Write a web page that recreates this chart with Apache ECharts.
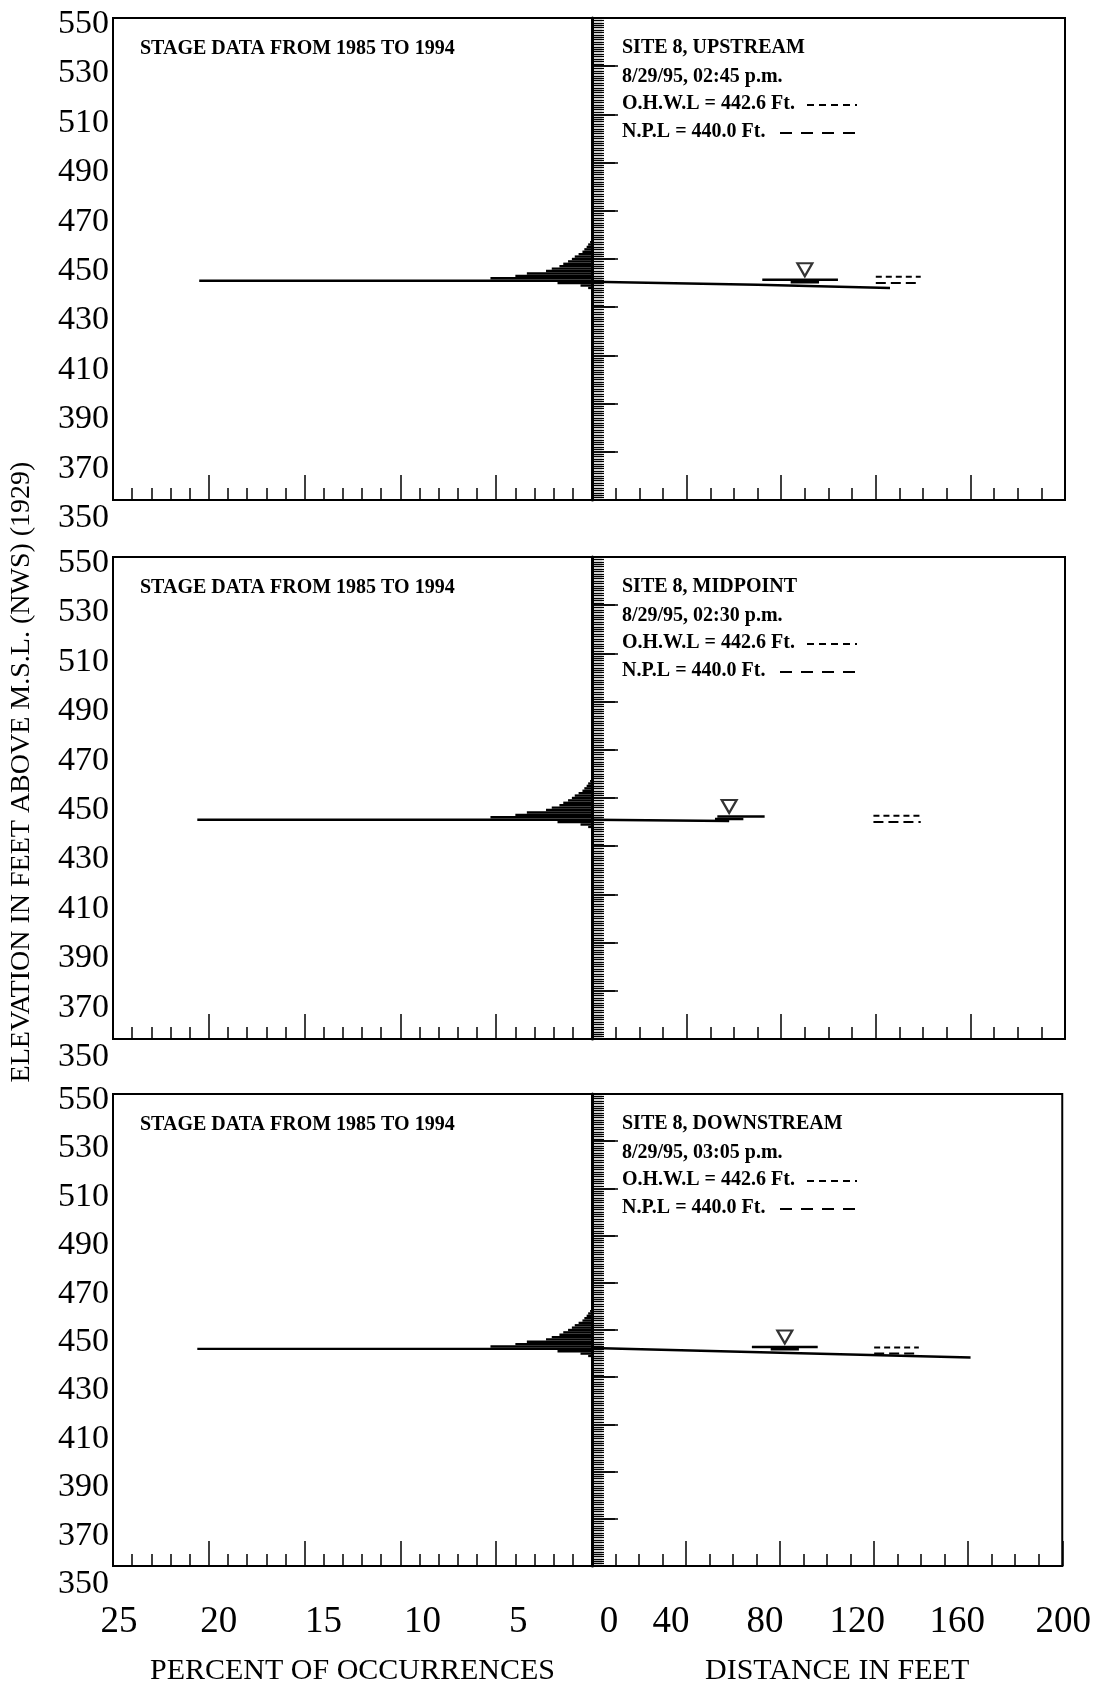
<!DOCTYPE html>
<html><head><meta charset="utf-8">
<script src="https://cdn.jsdelivr.net/npm/echarts@6/dist/echarts.min.js"></script>
<style>html,body{margin:0;padding:0;background:#fff}#c{width:1094px;height:1687px}</style>
</head><body><div id="c"></div>
<script>
// ---------- DATA ----------
const elevLabels = [350, 370, 390, 410, 430, 450, 470, 490, 510, 530, 550];
const pctLabels = ['25', '20', '15', '10', '5'];
const distLabels = ['0', '40', '80', '120', '160', '200'];
const stageNote = 'STAGE DATA FROM 1985 TO 1994';
const siteTitles = ['SITE 8, UPSTREAM', 'SITE 8, MIDPOINT', 'SITE 8, DOWNSTREAM'];
const siteTimes = ['8/29/95, 02:45 p.m.', '8/29/95, 02:30 p.m.', '8/29/95, 03:05 p.m.'];
const ohwlText = 'O.H.W.L = 442.6 Ft.';
const nplText = 'N.P.L = 440.0 Ft.';
const ohwl = 442.6;
const npl = 440.0;
const yTitle = 'ELEVATION IN FEET ABOVE M.S.L. (NWS) (1929)';
const xTitleLeft = 'PERCENT OF OCCURRENCES';
const xTitleRight = 'DISTANCE IN FEET';

// stage histograms: [elevation (ft), percent of occurrences]
const histUp = [[438,0.2],[439,0.6],[440,1.8],[441,20.5],[442,5.3],[443,4.0],[444,3.4],[445,2.4],[446,2.1],[447,1.7],[448,1.5],[449,1.25],[450,1.05],[451,0.9],[452,0.7],[453,0.5],[454,0.4],[455,0.28],[456,0.2],[457,0.1]];
const histMid = [[438,0.2],[439,0.6],[440,1.8],[441,20.6],[442,5.3],[443,4.0],[444,3.4],[445,2.4],[446,2.1],[447,1.7],[448,1.5],[449,1.25],[450,1.05],[451,0.9],[452,0.7],[453,0.5],[454,0.4],[455,0.28],[456,0.2],[457,0.1]];
const histDown = [[439,0.2],[440,0.6],[441,1.8],[442,20.6],[443,5.3],[444,4.0],[445,3.4],[446,2.4],[447,2.1],[448,1.7],[449,1.5],[450,1.25],[451,1.05],[452,0.9],[453,0.7],[454,0.5],[455,0.4],[456,0.28],[457,0.2],[458,0.1]];

// ground profiles: [distance (ft), elevation (ft)]
const profUp = [[0,440.6],[70,439.3],[126,438.0]];
const profMid = [[0,441.0],[58,440.5]];
const profDown = [[0,442.4],[80,440.4],[161,438.4]];

// water surface on survey date: [distance (ft), elevation]
const wsUp = [[72,441.4],[104,441.4]];
const wsMid = [[53,442.3],[73,442.3]];
const wsDown = [[68,442.8],[96,442.8]];
const wsMarkUp = [[90,441.4]];
const wsMarkMid = [[58,442.3]];
const wsMarkDown = [[82,442.8]];

// O.H.W.L / N.P.L reference segments (distance range, ft)
const refUp = [120, 139];
const refMid = [119, 139];
const refDown = [120, 139];

// ---------- LAYOUT ----------
const FONT = 'Liberation Serif';
const tops = [18, 557, 1094];
const H = 482;
const LX = 113, LW = 479, RX = 592, RW = 473;

const hists = [histUp, histMid, histDown];
const profs = [profUp, profMid, profDown];
const wss = [wsUp, wsMid, wsDown];
const marks = [wsMarkUp, wsMarkMid, wsMarkDown];
const refs = [refUp, refMid, refDown];

const grids = [], xAxes = [], yAxes = [], series = [], graphics = [];

const yRich = {};
elevLabels.forEach(v => {
  const off = 6 + (550 - v) / 200 * 12;
  yRich['e' + v] = {fontFamily: FONT, fontSize: 34, color: '#000', padding: [2 * off, 0, 0, 0]};
});
const pctOff = [6, 10, 19, 22, 22];
const pRich = {};
pctLabels.forEach((s, i) => {
  const d = pctOff[i];
  pRich['p' + i] = {fontFamily: FONT, fontSize: 37, color: '#000', padding: d >= 0 ? [0, 0, 0, 2 * d] : [0, -2 * d, 0, 0]};
});
const distOff = [17, -15, -15, -17, -11, 1];
const dRich = {};
distLabels.forEach((s, i) => {
  const d = distOff[i];
  dRich['d' + i] = {fontFamily: FONT, fontSize: 37, color: '#000', padding: d >= 0 ? [0, 0, 0, 2 * d] : [0, -2 * d, 0, 0]};
});

const axisLine = {show: true, lineStyle: {color: '#000', width: 2}};

function histRender(params, api) {
  const e = api.value(0), p = api.value(1);
  const a = api.coord([p, e + 0.5]);
  const b = api.coord([0, e - 0.5]);
  return {type: 'rect', shape: {x: Math.min(a[0], b[0]), y: Math.min(a[1], b[1]), width: Math.abs(a[0] - b[0]), height: Math.abs(a[1] - b[1])}, style: {fill: '#000'}};
}

const TXT = 'bold 20px "Liberation Serif"';

for (let p = 0; p < 3; p++) {
  const top = tops[p];
  const last = p === 2;
  grids.push({left: LX, top: top, width: LW, height: H, show: true, borderColor: '#000', borderWidth: 2, backgroundColor: 'transparent'});
  grids.push({left: RX, top: top, width: RW, height: H, show: true, borderColor: '#000', borderWidth: 2, backgroundColor: 'transparent'});
  const gL = 2 * p, gR = 2 * p + 1;

  xAxes.push({
    gridIndex: gL, type: 'value', min: 0, max: 25, interval: 5, inverse: true, position: 'bottom',
    axisLine: axisLine, splitLine: {show: false},
    axisTick: {show: true, inside: true, length: 25, lineStyle: {color: '#000', width: 1.5}},
    minorTick: {show: true, splitNumber: 5, length: 12, lineStyle: {color: '#000', width: 1.5}},
    axisLabel: {show: last, margin: 38, fontFamily: FONT, fontSize: 37, color: '#000',
      formatter: v => { const i = pctLabels.indexOf(String(v)); return i < 0 ? '' : '{p' + i + '|' + pctLabels[i] + '}'; },
      rich: pRich},
    name: last ? xTitleLeft : '', nameLocation: 'middle', nameGap: 90,
    nameTextStyle: {fontFamily: FONT, fontSize: 30, color: '#000'}
  });
  xAxes.push({
    gridIndex: gR, type: 'value', min: 0, max: 200, interval: 40, position: 'bottom',
    axisLine: axisLine, splitLine: {show: false},
    axisTick: {show: true, inside: true, length: 25, lineStyle: {color: '#000', width: 1.5}},
    minorTick: {show: true, splitNumber: 4, length: 12, lineStyle: {color: '#000', width: 1.5}},
    axisLabel: {show: last, margin: 38, fontFamily: FONT, fontSize: 37, color: '#000',
      formatter: v => { const i = distLabels.indexOf(String(v)); return i < 0 ? '' : '{d' + i + '|' + distLabels[i] + '}'; },
      rich: dRich},
    name: last ? xTitleRight : '', nameLocation: 'middle', nameGap: 90,
    nameTextStyle: {fontFamily: FONT, fontSize: 30, color: '#000', padding: [0, 0, 0, 20]}
  });
  yAxes.push({
    gridIndex: gL, type: 'value', min: 350, max: 550, interval: 20, position: 'left',
    axisLine: axisLine, splitLine: {show: false},
    axisTick: {show: true, inside: true, length: 26, lineStyle: {color: '#000', width: 1.5}},
    minorTick: {show: true, splitNumber: 20, length: 10, lineStyle: {color: '#000', width: 1.2}},
    axisLabel: {show: true, margin: 4, fontFamily: FONT, fontSize: 34, color: '#000',
      formatter: v => elevLabels.indexOf(v) < 0 ? '' : '{e' + v + '|' + v + '}', rich: yRich}
  });
  yAxes.push({
    gridIndex: gR, type: 'value', min: 350, max: 550, interval: 20, position: 'left',
    axisLine: {show: true, lineStyle: {color: '#000', width: 3}}, splitLine: {show: false},
    axisTick: {show: true, inside: true, length: 23, lineStyle: {color: '#000', width: 1.5}},
    minorTick: {show: true, splitNumber: 20, length: 12, lineStyle: {color: '#000', width: 1.2}},
    axisLabel: {show: false}
  });

  series.push({
    type: 'custom', xAxisIndex: gL, yAxisIndex: gL, renderItem: histRender,
    encode: {x: 1, y: 0}, data: hists[p], silent: true
  });
  series.push({
    type: 'line', xAxisIndex: gR, yAxisIndex: gR, data: profs[p], symbol: 'none',
    lineStyle: {color: '#000', width: 2.5}, silent: true
  });
  series.push({
    type: 'line', xAxisIndex: gR, yAxisIndex: gR, data: wss[p], symbol: 'none',
    lineStyle: {color: '#000', width: 2.5}, silent: true
  });
  const m = marks[p][0];
  series.push({
    type: 'line', xAxisIndex: gR, yAxisIndex: gR, symbol: 'none',
    data: [[m[0] - 6, m[1] - 1], [m[0] + 6, m[1] - 1]],
    lineStyle: {color: '#000', width: 2.5}, silent: true
  });
  series.push({
    type: 'scatter', xAxisIndex: gR, yAxisIndex: gR, data: marks[p], symbol: 'triangle',
    symbolSize: [15, 13], symbolRotate: 180, symbolOffset: [0, -10],
    itemStyle: {color: '#fff', borderColor: '#000', borderWidth: 2.2}, silent: true
  });
  const r = refs[p];
  series.push({
    type: 'line', xAxisIndex: gR, yAxisIndex: gR, symbol: 'none',
    data: [[r[0], ohwl], [r[1], ohwl]],
    lineStyle: {color: '#000', width: 2, type: [6, 4]}, silent: true
  });
  series.push({
    type: 'line', xAxisIndex: gR, yAxisIndex: gR, symbol: 'none',
    data: [[r[0], npl], [r[1], npl]],
    lineStyle: {color: '#000', width: 2, type: [10, 5]}, silent: true
  });

  const tx = (x, y, t) => ({type: 'text', x: x, y: y, style: {text: t, font: TXT, fill: '#000', textVerticalAlign: 'middle'}});
  graphics.push(tx(140, top + 31, stageNote));
  graphics.push(tx(622, top + 30, siteTitles[p]));
  graphics.push(tx(622, top + 59, siteTimes[p]));
  graphics.push(tx(622, top + 86, ohwlText));
  graphics.push(tx(622, top + 114, nplText));
  graphics.push({type: 'line', shape: {x1: 807, y1: top + 87, x2: 857, y2: top + 87}, style: {stroke: '#000', lineWidth: 2, lineDash: [7, 5]}});
  graphics.push({type: 'line', shape: {x1: 780, y1: top + 115, x2: 857, y2: top + 115}, style: {stroke: '#000', lineWidth: 2, lineDash: [12, 9]}});
}

graphics.push({type: 'text', x: 22, y: 772, rotation: Math.PI / 2, style: {text: yTitle, font: '28px "Liberation Serif"', fill: '#000', textAlign: 'center', textVerticalAlign: 'middle'}});

const chart = echarts.init(document.getElementById('c'), null, {renderer: 'canvas'});
chart.setOption({
  animation: false,
  backgroundColor: '#fff',
  grid: grids, xAxis: xAxes, yAxis: yAxes, series: series, graphic: graphics
});
</script>
</body></html>
